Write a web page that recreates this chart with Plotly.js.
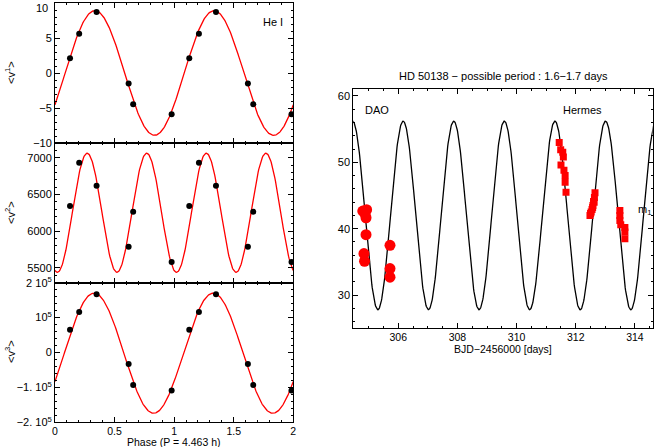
<!DOCTYPE html>
<html>
<head>
<meta charset="utf-8">
<script src="https://cdn.plot.ly/plotly-3.0.1.min.js"></script>
<style>html,body{margin:0;padding:0;background:#fff;}#chart{width:654px;height:447px;}</style>
</head>
<body>
<div id="chart"></div>
<script>
// ---- Left panels: phase-folded moments (He I) ----
const phases = [0.126, 0.203, 0.349, 0.618, 0.656, 0.979, 1.127, 1.208, 1.351, 1.619, 1.664, 1.985];
const v1 = [2.1, 5.6, 8.7, -1.5, -4.45, -5.9, 2.1, 5.6, 8.7, -1.5, -4.45, -5.9];
const v2 = [6341, 6932, 6618, 5786, 6264, 5578, 6341, 6932, 6618, 5786, 6264, 5578];
const v3 = [65200, 116000, 166700, -33300, -92800, -109000, 65200, 116000, 166700, -33300, -92800, -109000];

// Fitted sine models: [offset, amplitude, period, zero-phase]
const fit1 = [0, 8.9, 1.0, 0.085];
const fit2 = [6248, 812, 0.5, 0.145];
const fit3 = [-2000, 172000, 1.0, 0.078];

// ---- Right panel: HD 50138 m1 vs time ----
const daoT = [304.80, 304.93, 304.91, 304.88, 304.91, 304.84, 304.86, 305.72, 305.72, 305.72];
const daoM = [42.65, 42.86, 41.65, 42.2, 39.1, 36.25, 35.1, 37.5, 34.0, 32.7];
const hermesT = [311.44, 311.49, 311.56, 311.58, 311.50, 311.60, 311.64, 311.64, 311.67,
                 312.65, 312.63, 312.60, 312.58, 312.55, 312.52, 312.50, 312.48, 312.62, 312.57,
                 313.49, 313.49, 313.49, 313.52, 313.66, 313.66, 313.66];
const hermesM = [53.0, 51.9, 51.5, 50.8, 49.6, 48.8, 48.0, 47.0, 45.5,
                 45.4, 44.7, 44.1, 43.5, 42.9, 42.5, 42.3, 42.0, 44.0, 43.2,
                 42.75, 42.0, 41.25, 40.6, 40.2, 39.5, 38.5];
// Model curve: [mean, amplitude, period, time of minimum]
const fitR = [42.0, 14.2, 1.71, 305.31];

const tickX = [0, 0.5, 1, 1.5, 2];
const tickXText = ['0', '0.5', '1', '1.5', '2'];
const tick1 = [-10, -5, 0, 5, 10];
const tick1Text = ['\u221210', '\u22125', '0', '5', ''];   // top label "10" drawn below as an annotation so it is not cut
const tick2 = [5500, 6000, 6500, 7000];
const tick2Text = ['5500', '6000', '6500', '7000'];
const tick3 = [-200000, -100000, 0, 100000, 200000];
const tick3Text = ['\u22122. 10<sup>5</sup>', '\u22121. 10<sup>5</sup>', '0', '10<sup>5</sup>', '2 10<sup>5</sup>'];
const tickR = [306, 308, 310, 312, 314];

function sineModel(p, xs) {
  return xs.map(x => p[0] + p[1] * Math.sin(2 * Math.PI * (x - p[3]) / p[2]));
}
function range(a, b, n) { const r = []; for (let i = 0; i < n; i++) r.push(a + (b - a) * i / (n - 1)); return r; }

const phGrid = range(0, 2, 401);
const tGrid = range(304.4, 314.7, 801);
const mGrid = tGrid.map(t => fitR[0] - fitR[1] * Math.cos(2 * Math.PI * (t - fitR[3]) / fitR[2]));

const red = '#ff0000';
const F = 'Liberation Sans, Arial, sans-serif';
const traces = [
  {x: phGrid, y: sineModel(fit1, phGrid), mode: 'lines', line: {color: red, width: 1.3}, xaxis: 'x', yaxis: 'y', hoverinfo: 'skip'},
  {x: phases, y: v1, mode: 'markers', marker: {color: '#000', size: 6}, xaxis: 'x', yaxis: 'y'},
  {x: phGrid, y: sineModel(fit2, phGrid), mode: 'lines', line: {color: red, width: 1.3}, xaxis: 'x2', yaxis: 'y2', hoverinfo: 'skip'},
  {x: phases, y: v2, mode: 'markers', marker: {color: '#000', size: 6}, xaxis: 'x2', yaxis: 'y2'},
  {x: phGrid, y: sineModel(fit3, phGrid), mode: 'lines', line: {color: red, width: 1.3}, xaxis: 'x3', yaxis: 'y3', hoverinfo: 'skip'},
  {x: phases, y: v3, mode: 'markers', marker: {color: '#000', size: 6}, xaxis: 'x3', yaxis: 'y3'},
  {x: tGrid, y: mGrid, mode: 'lines', line: {color: '#000', width: 1.3}, xaxis: 'x4', yaxis: 'y4', hoverinfo: 'skip'},
  {x: daoT, y: daoM, mode: 'markers', marker: {color: red, size: 11, symbol: 'circle'}, xaxis: 'x4', yaxis: 'y4', name: 'DAO'},
  {x: hermesT, y: hermesM, mode: 'markers', marker: {color: red, size: 7, symbol: 'square'}, xaxis: 'x4', yaxis: 'y4', name: 'Hermes'}
];

const W = 654, H = 447;
const xd = [55 / W, 293.3 / W];
const xr = [353.3 / W, 652.7 / W];
const yd1 = [1 - 143 / H, 1 - 3 / H];
const yd2 = [1 - 282.7 / H, 1 - 143 / H];
const yd3 = [1 - 422.3 / H, 1 - 282.7 / H];
const yd4 = [1 - 328.3 / H, 1 - 89.3 / H];

const axBase = {showline: true, mirror: 'allticks', linecolor: '#000', linewidth: 1, ticks: 'inside', ticklen: 5, tickcolor: '#000',
  showgrid: false, zeroline: false, ticklabeloverflow: 'allow', tickfont: {family: F, size: 11, color: '#000'}};
function ax(extra) { return Object.assign({}, axBase, extra); }
function note(x, y, text, extra) {
  return Object.assign({xref: 'paper', yref: 'paper', x: x / W, y: 1 - y / H, text: text, showarrow: false,
    xanchor: 'center', yanchor: 'middle', font: {family: F, size: 11, color: '#000'}}, extra || {});
}
const xtf = {family: F, size: 10.5, color: '#000'};

const layout = {
  width: W, height: H, margin: {l: 0, r: 0, t: 0, b: 0}, showlegend: false,
  paper_bgcolor: '#fff', plot_bgcolor: '#fff', font: {family: F, size: 11, color: '#000'},
  xaxis: ax({domain: xd, range: [0, 2], anchor: 'y', tickvals: tickX, showticklabels: false, minor: {dtick: 0.1, ticklen: 2, ticks: 'inside', tickcolor: '#000'}}),
  yaxis: ax({domain: yd1, range: [-10.0001, 10.0001], anchor: 'x', tickvals: tick1, ticktext: tick1Text, minor: {dtick: 1, ticklen: 2, ticks: 'inside', tickcolor: '#000'}}),
  xaxis2: ax({domain: xd, range: [0, 2], anchor: 'y2', tickvals: tickX, showticklabels: false, minor: {dtick: 0.1, ticklen: 2, ticks: 'inside', tickcolor: '#000'}}),
  yaxis2: ax({domain: yd2, range: [5295, 7200], anchor: 'x2', tickvals: tick2, ticktext: tick2Text, minor: {dtick: 100, ticklen: 2, ticks: 'inside', tickcolor: '#000'}}),
  xaxis3: ax({domain: xd, range: [-0.0001, 2.0001], anchor: 'y3', tickvals: tickX, ticktext: tickXText, tickfont: xtf, ticklabelstandoff: -1,
    minor: {dtick: 0.1, ticklen: 2, ticks: 'inside', tickcolor: '#000'}}),
  yaxis3: ax({domain: yd3, range: [-200010, 200010], anchor: 'x3', tickvals: tick3, ticktext: tick3Text, minor: {dtick: 20000, ticklen: 2, ticks: 'inside', tickcolor: '#000'}}),
  xaxis4: ax({domain: xr, range: [304.48, 314.6], anchor: 'y4', tickvals: tickR, tickfont: xtf, ticklabelstandoff: -1,
    minor: {dtick: 0.5, ticklen: 2, ticks: 'inside', tickcolor: '#000'}}),
  yaxis4: ax({domain: yd4, range: [25, 61], anchor: 'x4', tickvals: [30, 40, 50, 60], minor: {dtick: 2, ticklen: 2, ticks: 'inside', tickcolor: '#000'}}),
  annotations: [
    note(50, 0, '10', {xanchor: 'right', yanchor: 'top', font: {family: F, size: 11, color: '#000'}}),
    note(10, 73, '&lt;v<sup>1</sup>&gt;', {textangle: -90}),
    note(10, 213, '&lt;v<sup>2</sup>&gt;', {textangle: -90}),
    note(10, 352, '&lt;v<sup>3</sup>&gt;', {textangle: -90}),
    note(174, 442, 'Phase (P = 4.463 h)', {font: {family: F, size: 10.5, color: '#000'}}),
    note(273, 22, 'He I'),
    note(503, 76, 'HD 50138 \u2212 possible period : 1.6\u22121.7 days'),
    note(503, 349, 'BJD\u22122456000 [days]', {font: {family: F, size: 10.5, color: '#000'}}),
    note(377, 110, 'DAO'),
    note(582, 110, 'Hermes'),
    note(644, 210, 'm<sub>1</sub>')
  ]
};

Plotly.newPlot('chart', traces, layout, {staticPlot: true, displayModeBar: false});
</script>
</body>
</html>
